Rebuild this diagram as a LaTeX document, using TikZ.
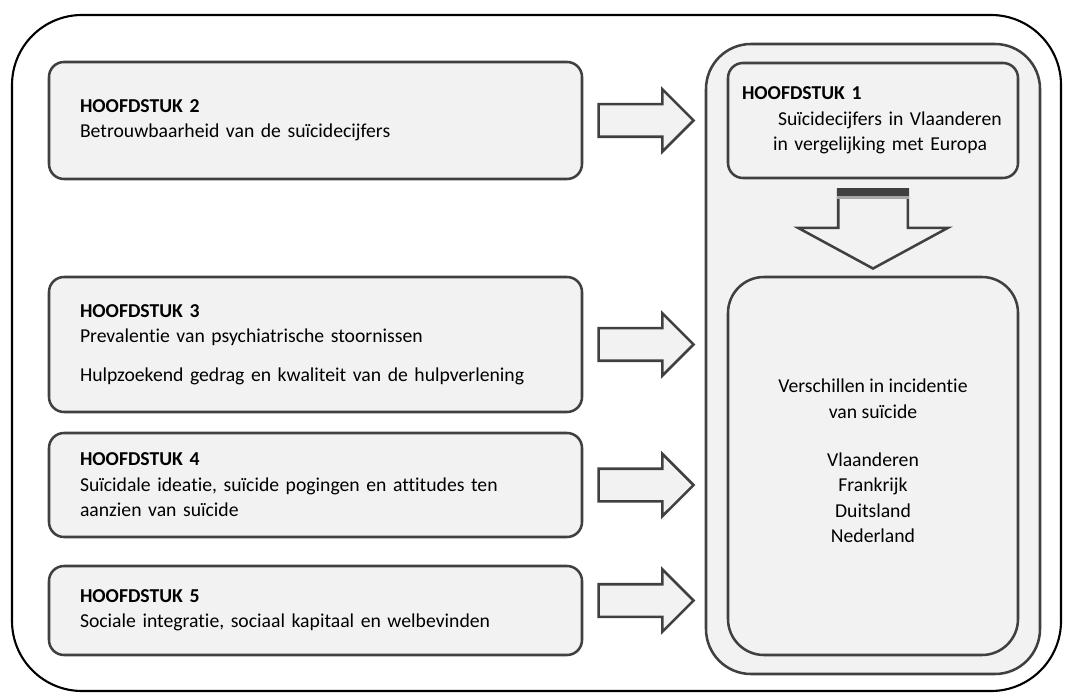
\documentclass[tikz,border=0pt]{standalone}
\usepackage{fontspec}
\setmainfont{Carlito}[Ligatures={NoCommon}, RawFeature={-clig;-calt;-dlig}]
\usetikzlibrary{positioning, fit, calc, shapes.arrows}

\definecolor{boxfill}{HTML}{F2F2F2}
\definecolor{boxline}{HTML}{404040}
\newlength{\pxu}
\setlength{\pxu}{0.025cm}

\begin{document}
\begin{tikzpicture}[
    x=0.025cm, y=-0.025cm,
    font=\fontsize{14}{18.1}\selectfont,
    frame/.style={draw=black, line width=1.5pt, rounded corners=70\pxu, inner sep=0pt},
    panel/.style={draw=boxline, fill=boxfill, line width=1.8pt, rounded corners=45\pxu, inner sep=0pt},
    chapter/.style={draw=boxline, fill=boxfill, line width=1.8pt, rounded corners=15\pxu,
        inner sep=0pt, align=left, minimum width=533\pxu, text width=471\pxu},
    result/.style={draw=boxline, fill=boxfill, line width=1.8pt, rounded corners=36\pxu,
        inner sep=0pt, minimum width=290\pxu, minimum height=378\pxu},
    blockarrow/.style={single arrow, draw=boxline, fill=boxfill, line width=1.8pt, inner sep=15\pxu,
        minimum height=95\pxu, minimum width=60\pxu, single arrow head extend=15\pxu, anchor=tail},
    downarrow/.style={blockarrow, shape border rotate=270, inner xsep=33.5\pxu, inner ysep=0pt,
        minimum height=79\pxu, minimum width=147\pxu, single arrow head extend=40\pxu,
        single arrow tip angle=123}
]
    \useasboundingbox (0,0) rectangle (1065,694);
    \node[frame, fit={(12,15) (1061,691)}] (frame) {};
    \node[panel, fit={(706,44) (1040,674)}] (panel) {};

    % chapters on the left
    \node[chapter, minimum height=117\pxu] (b2) at (315.5,120.5)
        {\textbf{HOOFDSTUK 2}\\Betrouwbaarheid van de suïcidecijfers};
    \node[chapter, minimum height=135\pxu] (b3) at (315.5,344.5)
        {\textbf{HOOFDSTUK 3}\\Prevalentie van psychiatrische stoornissen\\[9pt]Hulpzoekend gedrag en kwaliteit van de hulpverlening};
    \node[chapter, minimum height=104\pxu] (b4) at (315.5,485)
        {\textbf{HOOFDSTUK 4}\\Suïcidale ideatie, suïcide pogingen en attitudes ten\\aanzien van suïcide};
    \node[chapter, minimum height=89\pxu] (b5) at (315.5,610.5)
        {\textbf{HOOFDSTUK 5}\\Sociale integratie, sociaal kapitaal en welbevinden};

    % right column
    \node[chapter, minimum width=290\pxu, minimum height=115\pxu, text width=262\pxu] (b1) at (873,120.5)
        {\textbf{HOOFDSTUK 1}\\\hspace*{36\pxu}Suïcidecijfers in Vlaanderen\\\hspace*{31\pxu}in vergelijking met Europa};
    \node[result] (res) at (873,466) {};
    \node[align=center] (inc) at ($(res.center)+(0,-5)$)
        {Verschillen in incidentie\\van suïcide\\[16pt]Vlaanderen\\Frankrijk\\Duitsland\\Nederland};

    % arrows
    \node[blockarrow] (a2) at ($(b2.east)+(14,0)$) {};
    \node[blockarrow] (a3) at ($(b3.east)+(14,0)$) {};
    \node[blockarrow] (a4) at ($(b4.east)+(14,0)$) {};
    \node[blockarrow] (a5) at ($(b5.east)+(14,-10)$) {};
    \node[downarrow] (da) at ($(b1.south)+(0,9)$) {};
    \fill[boxline] (da.before tail) rectangle ($(da.after tail)+(0,8)$);
    \fill[gray!70] ($(da.before tail)+(0,8)$) rectangle ($(da.after tail)+(0,11)$);
\end{tikzpicture}
\end{document}
